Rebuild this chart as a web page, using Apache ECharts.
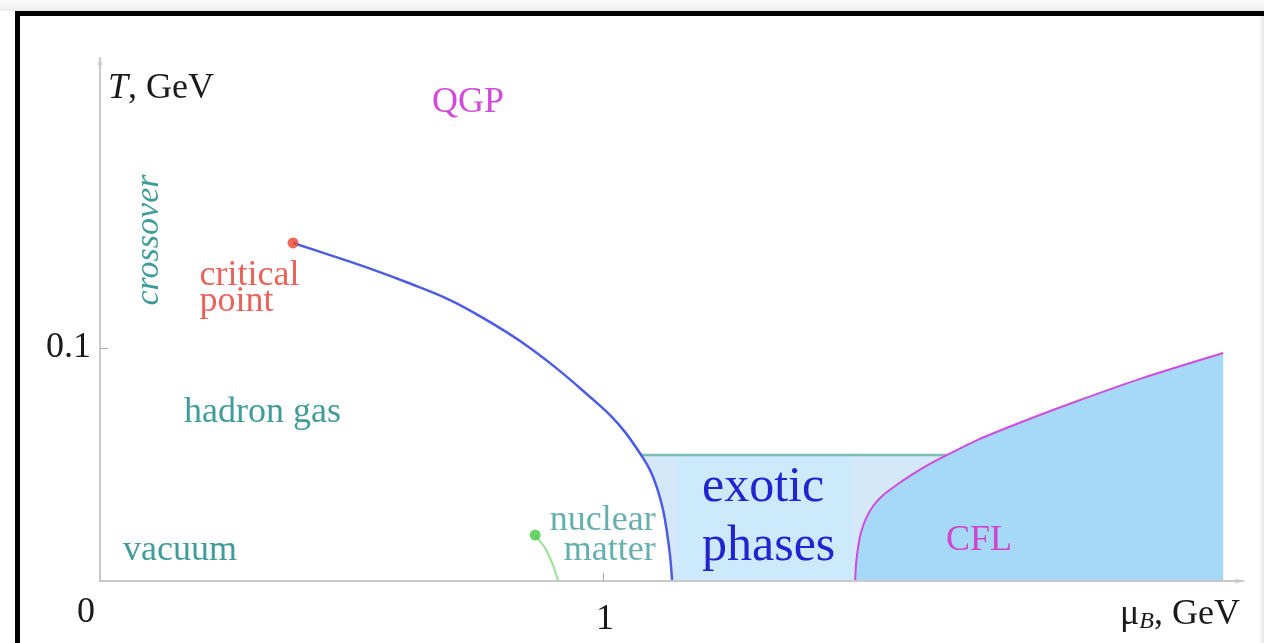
<!DOCTYPE html>
<html>
<head>
<meta charset="utf-8">
<script src="https://cdn.jsdelivr.net/npm/echarts@6/dist/echarts.min.js"></script>
<style>
  html, body { margin: 0; padding: 0; background: #ffffff; }
  #chart { width: 1264px; height: 643px; }
</style>
</head>
<body>
<div id="chart"></div>
<script>
// QCD phase diagram: baryon chemical potential muB (GeV) vs temperature T (GeV)

// first-order hadron/quark boundary, starting at the critical point
const firstOrderLine = [
  [0.3837, 0.1451], [0.4573, 0.1399], [0.5368, 0.1341], [0.6163, 0.1277],
  [0.6958, 0.1206], [0.7654, 0.1124], [0.8350, 0.1030], [0.9046, 0.0918],
  [0.9742, 0.0790], [1.0139, 0.0712], [1.0437, 0.0639], [1.0755, 0.0541],
  [1.0934, 0.0476], [1.1074, 0.0399], [1.1193, 0.0305], [1.1272, 0.0206],
  [1.1332, 0.0107], [1.1372, 0]
];
// colour-flavour-locked boundary
const cflLine = [
  [1.5010, 0], [1.5030, 0.0077], [1.5070, 0.0146], [1.5129, 0.0210],
  [1.5229, 0.0270], [1.5368, 0.0322], [1.5547, 0.0365], [1.5805, 0.0408],
  [1.6103, 0.0451], [1.6461, 0.0498], [1.6839, 0.0541], [1.7435, 0.0605],
  [1.8370, 0.0687], [1.9483, 0.0777], [2.0716, 0.0871], [2.2326, 0.0979]
];
// nuclear liquid-gas line, ending point first
const nuclearLine = [[0.865, 0.0197], [0.885, 0.0140], [0.900, 0.0070], [0.911, 0]];
const criticalPoint = [[0.3837, 0.1451]];
// upper edge of the exotic-phase region and its inner band
const exoticTop = 0.0541;
const exoticBand = [[1.146, 0], [1.495, exoticTop]];

const xTickValues = [1];
const xLabelValues = [0, 1];
const yTickValues = [0.1];
const yLabelValues = [0.1];

const SERIF = '"Liberation Serif", "Times New Roman", serif';
const TEAL = '#3f9c99';

// exotic region outline: down the first-order line, along the axis, up the CFL line
const exoticOutline = firstOrderLine.filter(p => p[1] <= exoticTop)
  .concat(cflLine.filter(p => p[1] <= exoticTop));
const exoticEdge = [
  firstOrderLine.find(p => p[1] <= exoticTop),
  cflLine.filter(p => p[1] <= exoticTop).slice(-1)[0]
];

const chart = echarts.init(document.getElementById('chart'), null, { renderer: 'canvas' });

function text(x, y, str, opts, rotation) {
  return {
    type: 'text', z: 100, silent: true,
    x: x, y: y, rotation: rotation || 0,
    style: Object.assign({
      text: str, fill: TEAL,
      fontFamily: SERIF, fontSize: 36,
      align: 'left', verticalAlign: 'middle'
    }, opts || {})
  };
}

const option = {
  backgroundColor: '#ffffff',
  animation: false,
  grid: { left: 100, right: 21, top: 58, bottom: 62 },
  xAxis: {
    type: 'value', min: 0, max: 2.272, z: 5,
    name: 'μ{sub|B}, GeV',
    nameLocation: 'end', nameGap: -3,
    nameTextStyle: {
      fontFamily: SERIF, fontSize: 36, color: '#1a1a1a',
      align: 'right', verticalAlign: 'middle', padding: [68, 0, 0, 0],
      rich: {
        sub: { fontFamily: SERIF, fontSize: 24, fontStyle: 'italic', color: '#1a1a1a', padding: [14, 0, 0, 0] }
      }
    },
    axisLine: { lineStyle: { color: '#c9c9c9', width: 2 }, symbol: ['none', 'arrow'], symbolSize: [4, 8] },
    axisTick: { show: true, inside: true, length: 8, customValues: xTickValues, lineStyle: { color: '#aaaaaa', width: 1 } },
    axisLabel: {
      customValues: xLabelValues, margin: 14,
      fontFamily: SERIF, fontSize: 36, color: '#1a1a1a',
      formatter: v => v === 0 ? '{z|0}' : '{o|' + v + '}',
      rich: {
        z: { fontFamily: SERIF, fontSize: 36, color: '#1a1a1a', padding: [0, 28, 0, 0] },
        o: { fontFamily: SERIF, fontSize: 36, color: '#1a1a1a', padding: [7, 0, 0, 4] }
      }
    },
    splitLine: { show: false }
  },
  yAxis: {
    type: 'value', min: 0, max: 0.2245, z: 5,
    name: '{it|T}, GeV',
    nameLocation: 'end', nameGap: -31,
    nameTextStyle: {
      fontFamily: SERIF, fontSize: 36, color: '#1a1a1a',
      align: 'left', verticalAlign: 'middle', padding: [0, 0, 0, 8],
      rich: {
        it: { fontFamily: SERIF, fontSize: 36, fontStyle: 'italic', color: '#1a1a1a' }
      }
    },
    axisLine: { show: true, lineStyle: { color: '#c9c9c9', width: 2 }, symbol: ['none', 'arrow'], symbolSize: [4, 8] },
    axisTick: { show: true, inside: true, length: 8, customValues: yTickValues, lineStyle: { color: '#aaaaaa', width: 1 } },
    axisLabel: {
      customValues: yLabelValues, margin: 9,
      fontFamily: SERIF, fontSize: 36, color: '#1a1a1a',
      formatter: v => String(v)
    },
    splitLine: { show: false }
  },
  series: [
    {
      name: 'exotic phases', type: 'custom', silent: true, z: 1,
      data: exoticOutline, encode: { x: 0, y: 1 },
      renderItem: function (params, api) {
        if (params.dataIndex !== 0) return null;
        return {
          type: 'polygon',
          shape: { points: exoticOutline.map(p => api.coord(p)) },
          style: { fill: '#d5e8fa', stroke: null }
        };
      }
    },
    {
      name: 'exotic band', type: 'custom', silent: true, z: 1,
      data: exoticBand, encode: { x: 0, y: 1 },
      renderItem: function (params, api) {
        if (params.dataIndex !== 0) return null;
        const a = api.coord(exoticBand[0]);
        const b = api.coord(exoticBand[1]);
        return {
          type: 'rect',
          shape: { x: a[0], y: b[1], width: b[0] - a[0], height: a[1] - b[1] },
          style: { fill: '#cdeafd' }
        };
      }
    },
    {
      name: 'exotic edge', type: 'line', data: exoticEdge, z: 2,
      symbol: 'none', silent: true,
      lineStyle: { color: '#7cbdb6', width: 2.5 }
    },
    {
      name: 'CFL', type: 'line', data: cflLine, z: 3,
      smooth: 0.3, symbol: 'none', silent: true,
      lineStyle: { color: '#d04cdc', width: 2 },
      areaStyle: { color: '#a6d8f8', opacity: 1 }
    },
    {
      name: 'first order', type: 'line', data: firstOrderLine, z: 4,
      smooth: 0.4, symbol: 'none', silent: true,
      lineStyle: { color: '#4c5de4', width: 2.5 }
    },
    {
      name: 'nuclear', type: 'line', data: nuclearLine, z: 4,
      smooth: 0.3, symbol: 'none', silent: true,
      lineStyle: { color: '#96e296', width: 2 }
    },
    {
      name: 'nuclear matter', type: 'scatter', data: [nuclearLine[0]], z: 6,
      symbolSize: 11, itemStyle: { color: '#45c845' }, silent: true,
      label: {
        show: true, formatter: 'nuclear\nmatter',
        position: [126, -24], align: 'right', verticalAlign: 'top',
        fontFamily: SERIF, fontSize: 36, lineHeight: 30, color: TEAL
      }
    },
    {
      name: 'critical point', type: 'scatter', data: criticalPoint, z: 6,
      symbolSize: 11, itemStyle: { color: '#e8432e' }, silent: true,
      label: {
        show: true, formatter: 'critical\npoint',
        position: [-88, 25], align: 'left', verticalAlign: 'top',
        fontFamily: SERIF, fontSize: 36, lineHeight: 26, color: '#e23c30'
      }
    }
  ],
  graphic: [
    { type: 'rect', silent: true, z: 50, shape: { x: 0, y: 0, width: 1264, height: 11 },
      style: { fill: new echarts.graphic.LinearGradient(0, 0, 0, 1, [{ offset: 0, color: '#fbfbfb' }, { offset: 1, color: '#ececec' }]) } },
    { type: 'rect', silent: true, z: 50, shape: { x: 15, y: 11, width: 1249, height: 5 }, style: { fill: '#000000' } },
    { type: 'rect', silent: true, z: 50, shape: { x: 15, y: 11, width: 5, height: 632 }, style: { fill: '#000000' } },
    { type: 'rect', silent: true, z: 50, shape: { x: 1259, y: 16, width: 5, height: 627 },
      style: { fill: new echarts.graphic.LinearGradient(0, 0, 1, 0, [{ offset: 0, color: '#ffffff' }, { offset: 1, color: '#e6e6e6' }]) } },
    text(432, 103, 'QGP', { fill: '#d24ad8' }),
    text(149, 240, 'crossover', { fontStyle: 'italic', fontSize: 34, align: 'center' }, Math.PI / 2),
    text(184, 413, 'hadron gas'),
    text(123, 551, 'vacuum'),
    text(702, 488, 'exotic', { fill: '#2323cf', fontSize: 50 }),
    text(702, 547, 'phases', { fill: '#2323cf', fontSize: 50 }),
    text(946, 541, 'CFL', { fill: '#cf45d0' })
  ]
};

chart.setOption(option);
</script>
</body>
</html>
